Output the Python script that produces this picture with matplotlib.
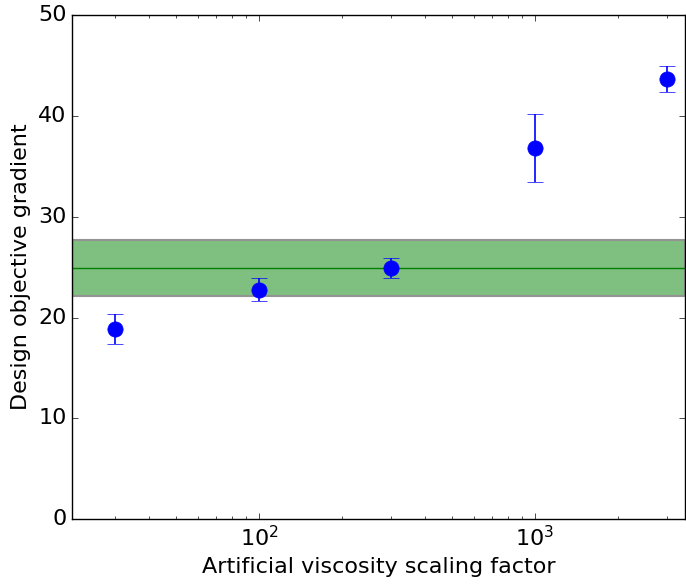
import numpy as np
import matplotlib
matplotlib.use("Agg")
import matplotlib.pyplot as plt

plt.style.use("classic")
plt.rcParams["font.family"] = ["DejaVu Sans"]
plt.rcParams["font.size"] = 16

# data
scale_factor = [30, 100, 300, 1000, 3000]
gradient = [18.9, 22.75, 24.9, 36.8, 43.7]
gradient_err = [1.5, 1.15, 1.0, 3.35, 1.3]

reference_value = 24.9
reference_err = 2.8

fig = plt.figure(figsize=(6.86, 5.84), dpi=100)
ax = fig.add_axes([0.105, 0.111, 0.8935, 0.863])

# reference band: translucent green with a grey outline
ax.axhspan(reference_value - reference_err, reference_value + reference_err,
           facecolor=(0, 0.5, 0, 0.5), edgecolor=(0.58, 0.58, 0.58), lw=1.5)
ax.axhline(reference_value, color="green")

ax.errorbar(scale_factor, gradient, yerr=gradient_err, fmt="o", color="blue",
            mec="blue", markersize=11, capsize=6, elinewidth=1.2)

ax.set_xscale("log")
ax.set_xlim(21, 3500)
ax.set_ylim(0, 50)
ax.set_xlabel("Artificial viscosity scaling factor")
ax.set_ylabel("Design objective gradient")

fig.savefig("out.png", dpi=100)
